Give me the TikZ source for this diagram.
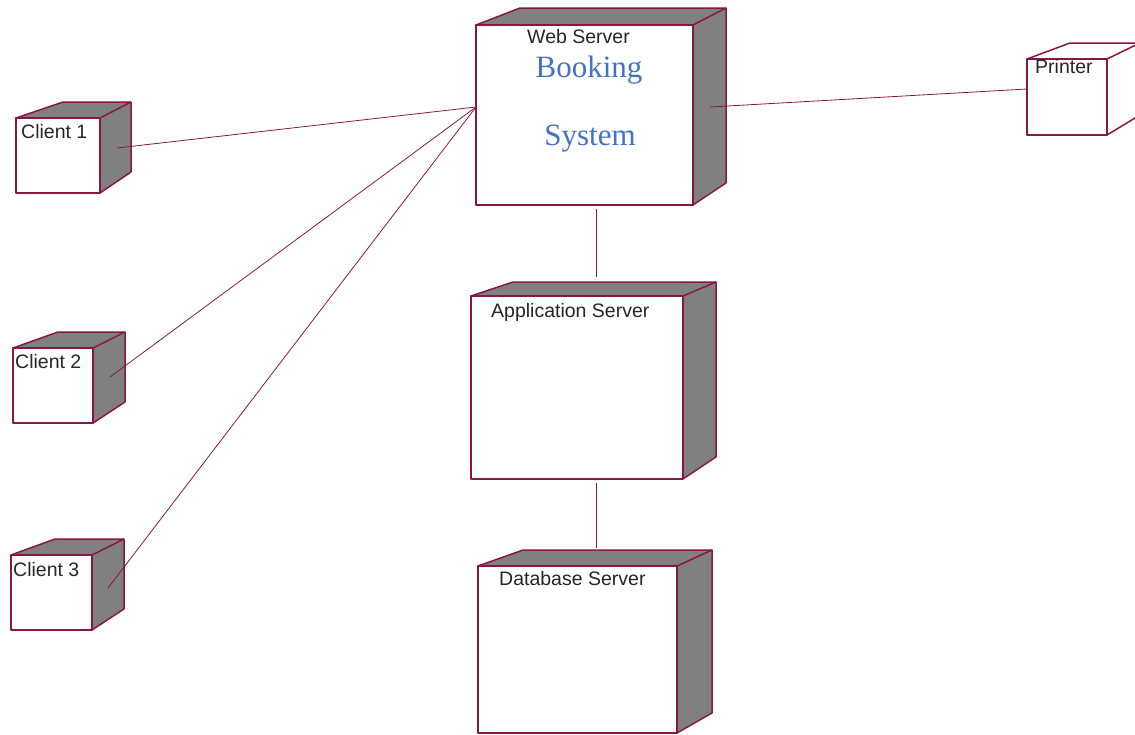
\documentclass[tikz,border=0pt]{standalone}
\usepackage{fontspec}
\setmainfont{Liberation Sans}
\newfontfamily\bookserif{Liberation Serif}
\definecolor{edgecol}{RGB}{136,24,64}
\definecolor{shadecol}{RGB}{128,128,128}
\definecolor{bookblue}{RGB}{68,114,196}
\tikzset{
  face/.style={draw=edgecol, line width=1.5pt, line join=round},
  sideface/.style={face, fill=shadecol},
  frontface/.style={face, fill=white, inner sep=0pt, outer sep=0pt, anchor=north west},
  lbl/.style={anchor=base west, inner sep=0pt, text=black!85, font=\fontsize{19.5}{21}\selectfont},
  bigtxt/.style={anchor=base, inner sep=0pt, text=bookblue, font=\bookserif\fontsize{31}{33}\selectfont},
  link/.style={draw=edgecol, line width=0.8pt},
}
% #1 name, #2 x1, #3 y1, #4 x2, #5 y2, #6 back-left x, #7 back-right x, #8 back top y, #9 side bottom y
\newcommand\depbox[9]{%
  \draw[sideface] (#2,#3) -- (#6,#8) -- (#7,#8) -- (#7,#9) -- (#4,#5) -- (#4,#3) -- cycle;
  \draw[face] (#4,#3) -- (#7,#8);
  \node[frontface, minimum width={#4-#2}, minimum height={#5-#3}] (#1) at (#2,#3) {};
}
\begin{document}
\begin{tikzpicture}[x=1pt,y=-1pt]
\useasboundingbox (0,0) rectangle (1135,734);
\clip (0,0) rectangle (1135,734);

% boxes
\depbox{c1}{16}{118}{100}{193}{63}{131}{102}{172}
\depbox{c2}{13}{348}{93}{423}{58}{125}{332}{402}
\depbox{c3}{11}{555}{92}{630}{55}{124}{539}{609}
\depbox{ws}{476}{25}{693}{205}{520}{726}{8}{183}
\depbox{app}{471}{296}{683}{479}{513}{716}{282}{457}
\depbox{db}{478}{566}{677}{733}{523}{712}{550}{713}
\begin{scope}[sideface/.append style={fill=white}]
\depbox{pr}{1027}{59}{1107}{135}{1070}{1140}{43}{115}
\end{scope}

% labels
\node[lbl] (t1) at (21,138) {Client 1};
\node[lbl] (t2) at (15,368) {Client 2};
\node[lbl] (t3) at (13,576) {Client 3};
\node[lbl] (tws) at (527,43) {Web Server};
\node[bigtxt] (tbk) at (589,77) {Booking};
\node[bigtxt] (tsy) at (590,145) {System};
\node[lbl] (tapp) at (491,317) {Application Server};
\node[lbl] (tdb) at (499,585) {Database Server};
\node[lbl] (tpr) at (1035,73) {Printer};

% connector ends
\coordinate (c1p) at (117,148);
\coordinate (c2p) at (110,377);
\coordinate (c3p) at (108,588);
\coordinate (wsin) at (476,107);
\coordinate (wsout) at (710,107);
\coordinate (prin) at (1027,89);
\coordinate (wsbot) at (596,209);
\coordinate (apptop) at (596,277);
\coordinate (appbot) at (596,483);
\coordinate (dbtop) at (596,548);

\draw[link] (c1p) -- (wsin);
\draw[link] (c2p) -- (wsin);
\draw[link] (c3p) -- (wsin);
\draw[link] (wsout) -- (prin);
\draw[link] (wsbot) -- (apptop);
\draw[link] (appbot) -- (dbtop);
\end{tikzpicture}
\end{document}
